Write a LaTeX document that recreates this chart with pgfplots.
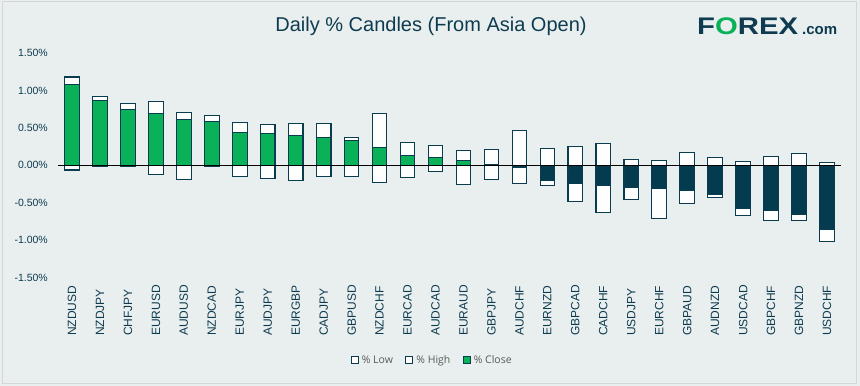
\documentclass[border=0pt]{standalone}
\usepackage{fontspec}
\setmainfont{Liberation Sans}
\newfontfamily\legfont{Open Sans}
\usepackage{pgfplots}
\pgfplotsset{compat=1.18}
\usepackage{pgfplotstable}
\definecolor{bg}{RGB}{233,239,239}
\definecolor{framec}{RGB}{214,214,214}
\definecolor{txt}{RGB}{14,59,79}
\definecolor{barline}{RGB}{10,60,80}
\definecolor{fxgreen}{RGB}{11,177,89}
\definecolor{fxdark}{RGB}{5,59,79}
\definecolor{leggray}{RGB}{89,89,89}

\pgfplotstableread{
i name low high close
0 NZDUSD -0.063 1.179 1.085
1 NZDJPY -0.013 0.924 0.871
2 CHFJPY -0.013 0.830 0.750
3 EURUSD -0.120 0.857 0.696
4 AUDUSD -0.188 0.710 0.616
5 NZDCAD -0.013 0.670 0.589
6 EURJPY -0.147 0.576 0.442
7 AUDJPY -0.174 0.549 0.429
8 EURGBP -0.200 0.563 0.402
9 CADJPY -0.147 0.563 0.375
10 GBPUSD -0.147 0.375 0.335
11 NZDCHF -0.228 0.696 0.241
12 EURCAD -0.160 0.308 0.134
13 AUDCAD -0.080 0.268 0.107
14 EURAUD -0.254 0.200 0.067
15 GBPJPY -0.188 0.214 0.013
16 AUDCHF -0.240 0.469 -0.027
17 EURNZD -0.268 0.228 -0.205
18 GBPCAD -0.482 0.254 -0.245
19 CADCHF -0.630 0.295 -0.272
20 USDJPY -0.455 0.080 -0.300
21 EURCHF -0.710 0.067 -0.313
22 GBPAUD -0.509 0.174 -0.339
23 AUDNZD -0.430 0.107 -0.388
24 USDCAD -0.670 0.054 -0.580
25 GBPCHF -0.737 0.120 -0.607
26 GBPNZD -0.737 0.160 -0.660
27 USDCHF -1.018 0.040 -0.860
}\candles

\pgfplotsset{
  candle/.style={ybar, bar width=14.6bp, bar shift=0pt, draw=barline, line width=1.1bp,
    legend image code/.code={\draw[##1, line width=0.8bp] (0bp,-3.5bp) rectangle (7bp,3.5bp); \path (8.5bp,0bp);}},
}

\begin{document}
\begin{tikzpicture}
\fill[bg] (-58bp,-108.5bp) rectangle (802bp,277.5bp);
\path[use as bounding box] (-58bp,-108.5bp) rectangle (802bp,277.5bp);
\draw[framec, line width=1bp] (-55bp,-105.5bp) rectangle (798.5bp,275.5bp);
\begin{axis}[
  at={(0bp,0bp)}, anchor=south west,
  scale only axis, width=783bp, height=224.5bp,
  xmin=-0.5, xmax=27.5, ymin=-1.5, ymax=1.5,
  axis line style={draw=none}, major tick length=0pt,
  ytick={-1.5,-1,-0.5,0,0.5,1,1.5},
  yticklabels={-1.50\%,-1.00\%,-0.50\%,0.00\%,0.50\%,1.00\%,1.50\%},
  yticklabel style={anchor=east, inner sep=0pt, xshift=-10bp, text=txt,
    font=\fontsize{10.5bp}{12bp}\selectfont},
  xtick={0,...,27},
  xticklabels from table={\candles}{name},
  xticklabel style={rotate=90, anchor=east, inner sep=0pt, text width=58bp, align=left,
    text=txt, font=\fontsize{12bp}{13bp}\selectfont},
  legend style={at={(0.4777,-0.3675)}, anchor=center, draw=none, fill=none,
    legend columns=-1, text=leggray, font=\legfont\fontsize{10.5bp}{12bp}\selectfont,
    /tikz/every even column/.append style={column sep=11bp},
    nodes={inner sep=1.5bp}},
  legend cell align=left,
]
\addplot[candle, fill=white] table[x=i,y=low]{\candles};
\addlegendentry{\% Low}
\addplot[candle, fill=white] table[x=i,y=high]{\candles};
\addlegendentry{\% High}
\addplot[candle, fill=fxgreen, restrict y to domain=0:5] table[x=i,y=close]{\candles};
\addlegendentry{\% Close}
\addplot[candle, fill=fxdark, restrict y to domain=-5:0, forget plot] table[x=i,y=close]{\candles};
\draw[black, line width=1bp] (axis cs:-0.5,0) -- (axis cs:27.5,0);
\end{axis}
\node[anchor=base, inner sep=0pt, text=txt, font=\fontsize{20bp}{24bp}\selectfont] at (373bp,245.5bp) {Daily \% Candles (From Asia Open)};
\node[anchor=base west, inner sep=0pt, text=txt, font=\bfseries\fontsize{24bp}{26bp}\selectfont] at (639bp,243.2bp) {\scalebox{1.22}[1]{F{\color{fxgreen}O}REX}};
\node[anchor=base west, inner sep=0pt, text=txt, font=\bfseries\fontsize{15bp}{18bp}\selectfont] at (744bp,243.2bp) {.com};
\end{tikzpicture}
\end{document}
